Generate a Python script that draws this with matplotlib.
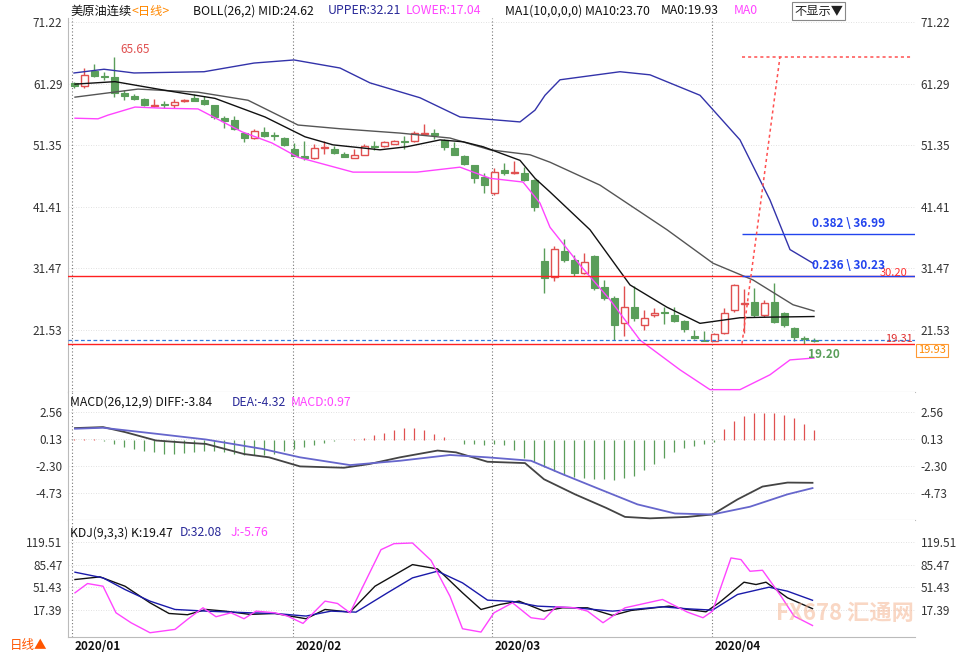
import matplotlib
matplotlib.use("Agg")
import matplotlib.pyplot as plt
import numpy as np

plt.rcParams['font.family'] = ['Noto Sans CJK SC', 'DejaVu Sans']

# ---------------- data ----------------
opens  = [61.4,60.9,63.3,62.5,62.3,59.8,59.3,58.8,57.6,57.9,57.8,58.4,59.0,58.7,57.8,55.7,55.4,53.3,52.5,53.5,52.8,52.5,
          50.7,49.6,49.3,50.9,50.7,49.9,49.3,49.8,51.2,51.2,51.6,51.9,52.0,53.1,53.3,52.2,50.9,49.6,48.1,46.2,43.6,47.4,46.9,46.9,45.7,
          32.6,30.1,34.3,32.8,30.7,33.5,28.5,26.7,22.6,25.2,22.4,23.9,24.3,24.0,23.0,20.5,19.9,19.8,21.1,24.7,25.8,26.0,23.9,26.0,24.2,21.9,20.3,19.9]
highs  = [61.6,63.8,64.4,63.2,65.65,60.2,59.6,58.9,58.8,58.5,58.8,58.8,59.6,59.3,57.9,56.1,56.0,53.5,53.9,54.3,53.5,52.7,
          51.7,52.0,51.5,52.0,51.2,50.2,50.8,51.6,52.0,52.1,52.2,52.9,53.6,54.7,53.9,52.3,51.8,49.8,48.2,46.9,47.6,48.4,48.8,47.9,45.9,
          34.7,35.0,36.2,33.6,34.0,33.7,29.6,27.0,28.7,28.7,24.8,25.0,25.3,25.2,23.2,21.5,21.4,21.0,25.0,28.9,28.2,28.3,26.4,29.1,24.5,22.0,20.6,20.2]
lows   = [60.6,60.6,62.3,61.9,59.1,58.6,58.7,57.7,57.5,57.3,57.4,58.3,58.4,57.9,55.6,54.2,53.8,51.9,52.3,52.6,52.2,51.2,
          49.6,49.0,49.1,50.0,50.0,49.4,49.2,49.7,50.5,51.0,51.5,50.8,51.9,53.0,52.4,50.6,49.7,48.1,45.2,43.6,43.3,46.5,46.7,45.5,40.8,
          27.5,29.5,32.5,30.3,30.5,28.0,26.3,19.9,20.6,23.0,21.5,23.7,22.5,22.8,21.2,20.1,19.7,19.7,20.9,24.5,21.0,23.6,23.7,22.6,22.0,19.8,19.3,19.6]
closes = [60.9,62.7,62.5,62.4,59.8,59.3,58.8,57.8,57.8,57.8,58.3,58.7,58.5,58.0,55.9,55.2,54.0,52.5,53.7,52.8,52.8,51.4,
          49.6,49.3,50.9,51.0,50.1,49.5,49.8,51.2,51.1,51.9,52.0,51.8,53.3,53.3,53.0,51.1,49.8,48.3,46.0,44.9,47.0,46.9,47.0,45.7,41.4,
          29.9,34.6,32.8,30.7,32.5,28.3,26.7,22.3,25.2,23.5,23.5,24.3,24.2,22.9,21.7,20.2,19.8,20.9,24.3,28.8,25.9,23.9,25.9,22.8,22.3,20.4,20.0,19.7]

upper_i = [0,3,6,13,18,22,26.6,29.6,34.6,38.6,44.6,46.1,47.1,48.6,54.6,57.6,62.6,66.6,69.6,71.6,74]
upper_v = [63.0,63.6,63.0,63.2,64.6,65.1,63.8,61.4,59.0,55.9,55.1,57.0,59.4,61.9,63.2,62.7,59.4,52.2,42.5,34.5,32.2]
mid_i = [0.1,6.4,12.4,17.4,22.4,26.6,32.6,37.6,41.6,45.6,47.6,52.6,59.3,63.9,67.9,71.9,74]
mid_v = [59.1,60.4,59.9,58.6,54.6,54.0,53.3,52.5,50.6,49.8,48.6,44.9,37.7,32.3,29.6,25.6,24.6]
lower_i = [0.1,2.4,3.4,6.1,9.1,12.4,16.8,19.8,22.4,27.9,34.3,38.6,41.6,44.9,46.6,47.6,50.6,53.6,56.6,60.6,63.6,66.6,69.6,71.6,74]
lower_v = [55.7,55.6,56.2,57.5,57.3,57.2,53.5,51.7,49.4,47.0,47.0,47.8,46.0,45.4,42.0,38.1,32.0,26.4,19.9,15.1,11.9,11.9,14.3,16.7,17.0]
ma10_i = [0.1,4.1,9.1,14.1,19.1,23.1,25.9,30.6,33.3,36.6,38.9,40.9,44.6,46.1,47.6,51.6,55.6,59.3,62.6,66.6,69.6,74]
ma10_v = [61.2,61.6,60.2,58.9,55.9,52.7,51.4,50.6,51.1,52.2,51.9,51.1,48.9,46.0,43.8,37.7,28.8,25.2,22.6,23.5,23.6,23.7]

diff_i = [0.1,2.9,5.1,8.2,11.35,13.2,17.0,19.5,22.6,27.0,29.5,32.6,36.35,38.2,41.35,45.1,47.0,50.1,53.2,55.1,57.6,61.35,63.85,66.35,68.85,71.35,73.85]
diff_v = [1.10,1.19,0.74,-0.02,-0.23,-0.33,-1.24,-1.54,-2.36,-2.48,-2.15,-1.54,-0.93,-1.09,-1.94,-2.06,-3.52,-4.88,-6.10,-6.92,-7.05,-6.92,-6.70,-5.34,-4.18,-3.82,-3.84]
dea_i = [0.1,2.9,8.2,13.2,18.85,22.6,27.6,32.6,37.6,41.35,45.7,48.85,52.6,56.35,60.1,63.85,67.6,71.35,73.85]
dea_v = [1.04,1.13,0.59,0.07,-0.78,-1.54,-2.24,-1.85,-1.33,-1.54,-1.85,-3.06,-4.43,-5.79,-6.61,-6.70,-6.00,-4.88,-4.32]
macd_hist = [0.15,0.15,0.1,
             -0.1,-0.35,-0.6,-0.8,-0.95,-1.1,-1.2,-1.2,
             -1.15,-1.1,-1.0,-1.0,-1.1,-1.2,-1.3,-1.35,-1.3,-1.2,
             -1.0,-0.8,-0.6,-0.4,-0.25,-0.1,0.0,
             0.1,0.25,0.45,0.7,0.9,1.1,1.1,0.9,0.6,0.3,
             0.0,-0.3,-0.35,-0.4,-0.3,-0.4,-0.9,-1.6,
             -2.0,-2.4,-2.8,-3.1,-3.3,-3.4,-3.5,-3.5,-3.6,-3.4,-3.2,
             -2.7,-2.1,-1.6,-1.1,-0.7,-0.5,-0.35,
             -0.2,
             1.0,1.7,2.2,2.5,2.5,2.45,2.3,2.0,1.5,0.97]

k_i = [0.1,2.6,5.1,7.6,9.5,11.35,13.2,15.1,17.6,20.1,23.2,25.1,27.6,30.1,33.85,36.35,38.85,40.7,42.6,44.5,47.0,48.85,51.35,53.85,55.7,59.5,61.35,63.2,64.5,67.0,68.2,69.2,71.35,73.85]
k_v = [63.2,67.2,53.2,28.3,12.3,10.4,18.3,15.8,10.9,12.3,4.4,18.3,14.3,53.2,85.6,79.1,43.3,18.3,25.8,30.8,15.8,20.8,20.8,9.4,16.8,23.3,18.3,14.8,28.3,59.2,55.7,59.2,35.8,19.5]
d_i = [0.1,2.9,5.1,7.6,10.1,13.2,17.6,20.1,23.2,25.7,28.2,31.35,33.85,36.35,38.85,41.35,43.85,46.35,50.1,53.85,58.85,61.35,63.85,66.35,69.5,71.35,73.85]
d_v = [74.2,65.7,48.2,30.8,18.3,15.8,13.3,12.3,8.4,15.8,14.3,43.3,65.7,75.7,58.2,32.3,30.3,23.3,20.8,15.8,22.3,19.3,17.3,40.8,51.7,45.7,32.1]
j_i = [0.1,1.35,2.9,4.2,5.7,7.6,10.1,11.35,12.9,14.2,15.7,17.0,18.2,20.1,21.35,22.9,25.1,26.35,27.6,30.7,32.0,33.85,35.7,37.6,38.85,40.7,42.0,43.85,45.7,47.0,48.2,50.1,51.35,52.9,55.1,58.85,61.35,62.9,63.85,65.7,66.7,67.6,68.85,70.7,72.0,73.85]
j_v = [43.3,57.2,53.2,13.3,-1.6,-16.6,-11.6,3.4,20.8,7.4,13.3,4.4,15.8,13.3,8.4,-2.6,30.8,27.3,13.3,108,117,118,92,38,-10.6,-15.6,13.3,28.3,5.9,3.4,22.3,20.8,15.8,-1.6,20.8,33.3,14.3,5.9,15.8,95.6,93.1,75.6,77.1,38.3,8.4,-5.76]

main_ticks = [71.22,61.29,51.35,41.41,31.47,21.53]
macd_ticks = [2.56,0.13,-2.30,-4.73]
kdj_ticks = [119.51,85.47,51.43,17.39]
month_labels = ["2020/01","2020/02","2020/03","2020/04"]
month_pos = [-0.2,21.9,41.8,63.8]
high_label = 65.65
low_label = 19.20
support_lvl = 19.31
resist_lvl = 30.20
ma0_lvl = 19.93
fib_lvls = [36.99, 30.23]
fib_names = ["0.382", "0.236"]

# ---------------- layout ----------------
W, H = 980, 655
fig = plt.figure(figsize=(9.8, 6.55), dpi=100)
def axpx(l, t, r, b):
    return fig.add_axes([l/W, 1-b/H, (r-l)/W, (b-t)/H])

ax1 = axpx(68, 18, 915, 392)
ax2 = axpx(68, 392, 915, 520)
ax3 = axpx(68, 520, 915, 637)
XL = (-0.6, 84.1)
GREEN = '#5a9e5a'; RED = '#e05050'; BLUE = '#3333aa'; MAG = '#ff44ff'; DEA_C = '#6666cc'

for ax, ticks, ylim in [(ax1, main_ticks, (11.52, 71.87)), (ax2, macd_ticks, (-7.2, 4.36)), (ax3, kdj_ticks, (-23, 152.5))]:
    ax.set_xlim(*XL); ax.set_ylim(*ylim)
    ax.set_yticks(ticks)
    ax.set_yticklabels([f"{t:.2f}" for t in ticks])
    ax.tick_params(axis='y', length=0, labelsize=8.5, labelcolor='#333333', labelright=True, pad=4)
    ax.set_xticks([])
    for t in ticks:
        ax.axhline(t, color='#d8d8d8', lw=0.6, ls=(0, (1, 2)), zorder=0)
    for m in month_pos:
        ax.axvline(m, color='#777777', lw=0.8, ls=(0, (1, 2)), zorder=0)
    for s in ax.spines.values():
        s.set_color('#bbbbbb'); s.set_linewidth(0.8)
    ax.spines['right'].set_visible(False)
    ax.spines['top'].set_visible(False)

# candles
for i, (o, h, l, c) in enumerate(zip(opens, highs, lows, closes)):
    up = c > o
    col = RED if up else GREEN
    ax1.vlines(i, l, h, color=col, lw=1.0, zorder=2)
    bot = min(o, c); ht = max(abs(c - o), 0.15)
    if up:
        ax1.bar(i, ht, bottom=bot, width=0.7, facecolor='white', edgecolor=col, lw=1.0, zorder=3)
    else:
        ax1.bar(i, ht, bottom=bot, width=0.7, facecolor=col, edgecolor=col, lw=0.8, zorder=3)

ax1.plot(upper_i, upper_v, color=BLUE, lw=1.0, zorder=4)
ax1.plot(mid_i, mid_v, color='#555555', lw=1.0, zorder=4)
ax1.plot(lower_i, lower_v, color=MAG, lw=1.0, zorder=4)
ax1.plot(ma10_i, ma10_v, color='#111111', lw=1.0, zorder=4)

ax1.axhline(resist_lvl, color='#ff2020', lw=1.0, zorder=5)
ax1.axhline(support_lvl, color='#ff2020', lw=1.0, zorder=5)
ax1.axhline(ma0_lvl, color='#3377dd', lw=0.9, ls=(0, (3, 2)), zorder=5)
for lv, nm in zip(fib_lvls, fib_names):
    ax1.hlines(lv, 66.8, XL[1], color='#2244ee', lw=1.0, zorder=5)
    ax1.text(73.8, lv + 0.6, f"{nm} \\ {lv:.2f}", color='#2244ee', fontsize=8.5, fontweight='bold', va='bottom', zorder=7)
ax1.text(80.6, resist_lvl - 0.3, f"{resist_lvl:.2f}", color='#ff3030', fontsize=8, va='bottom', zorder=6)
ax1.plot([66.8, 70.6], [support_lvl, high_label], color='#ff5050', lw=1.1, ls=(0, (2, 2)), zorder=5)
ax1.hlines(high_label, 66.8, 83.8, color='#ff5050', lw=1.1, ls=(0, (2, 2)), zorder=5)
ax1.text(4.6, high_label + 0.6, f"{high_label:.2f}", color='#e05050', fontsize=8.5, zorder=6)
ax1.text(81.1, support_lvl + 0.2, f"{support_lvl:.2f}", color='#e03030', fontsize=8, zorder=6)
ax1.text(73.4, low_label - 0.5, f"{low_label:.2f}", color='#5a9e5a', fontsize=8.5, va='top', fontweight='bold', zorder=6)
ax1.text(84.4, ma0_lvl - 0.9, f"{ma0_lvl:.2f}", color='#ff8800', fontsize=8, va='top', clip_on=False,
         bbox=dict(boxstyle='square,pad=0.15', fc='white', ec='#ff9933', lw=0.8), zorder=8)

# MACD
ax2.vlines(range(len(macd_hist)), 0, macd_hist,
           colors=[RED if v > 0 else GREEN for v in macd_hist], lw=0.9, zorder=2)
ax2.plot(diff_i, diff_v, color='#444444', lw=1.3, zorder=3)
ax2.plot(dea_i, dea_v, color=DEA_C, lw=1.3, zorder=3)

# KDJ
ax3.plot(k_i, k_v, color='#111111', lw=1.0, zorder=3)
ax3.plot(d_i, d_v, color='#1a1aaa', lw=1.0, zorder=3)
ax3.plot(j_i, j_v, color=MAG, lw=1.0, zorder=3)

# watermark
fig.text(776/W, 1-614/H, "FX678 汇通网", fontsize=16, fontweight='bold', color='#f5b08a', alpha=0.5, va='center')

# header text
def ftext(x, y, s, c, fs=8.8, **kw):
    fig.text(x/W, 1-y/H, s, color=c, fontsize=fs, va='center', **kw)
ftext(70, 11, "美原油连续", '#111111')
ftext(131, 11, "<日线>", '#ff8800')
ftext(193, 11, "BOLL(26,2) MID:24.62", '#111111')
ftext(328, 11, "UPPER:32.21", '#2a2a99')
ftext(406, 11, "LOWER:17.04", MAG)
ftext(505, 11, "MA1(10,0,0,0) MA10:23.70", '#111111')
ftext(661, 11, "MA0:19.93", '#111111')
ftext(734, 11, "MA0", MAG)
ftext(794, 11, "不显示▼", '#222222', bbox=dict(boxstyle='square,pad=0.2', fc='white', ec='#888888', lw=0.8))
ftext(70, 402, "MACD(26,12,9) DIFF:-3.84", '#111111')
ftext(232, 402, "DEA:-4.32", '#2a2a99')
ftext(291, 402, "MACD:0.97", MAG)
ftext(70, 533, "KDJ(9,3,3) K:19.47", '#111111')
ftext(180, 533, "D:32.08", '#2a2a99')
ftext(231, 533, "J:-5.76", MAG)
for lab, m in zip(month_labels, month_pos):
    ftext(74 + 10*m + 3, 646, lab, '#111111', fs=8.5, fontweight='bold')
ftext(10, 645, "日线▲", '#ff5500', fs=9)

fig.savefig("out.png", dpi=100)
